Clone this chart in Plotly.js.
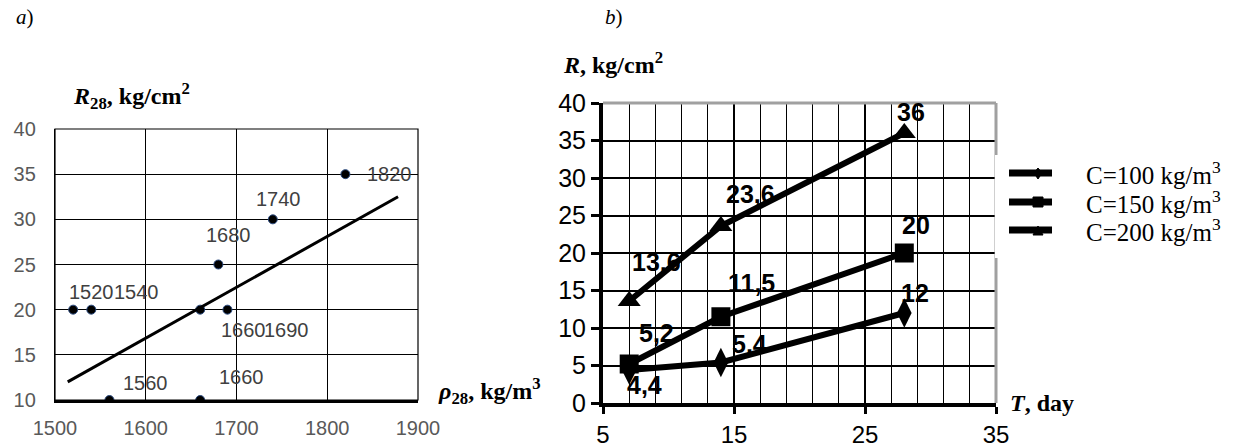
<!DOCTYPE html>
<html>
<head>
<meta charset="utf-8">
<script src="https://cdn.plot.ly/plotly-3.0.1.min.js"></script>
<style>html,body{margin:0;padding:0;background:#fff}#chart{width:1238px;height:448px}</style>
</head>
<body>
<div id="chart"></div>
<script>
// ---- Chart a): strength vs density ----
const densityX = [1520, 1540, 1560, 1660, 1660, 1680, 1690, 1740, 1820];
const strengthY = [20, 20, 10, 20, 10, 25, 20, 30, 35];
const densityLabels = ['1520', '1540', '1560', '1660', '1660', '1680', '1690', '1740', '1820'];
const trendX = [1514, 1878];
const trendY = [12, 32.5];

// ---- Chart b): strength vs time ----
const days = [7, 14, 28];
const seriesNames = ['C=100 kg/m<sup>3</sup>', 'C=150 kg/m<sup>3</sup>', 'C=200 kg/m<sup>3</sup>'];
const c100 = [4.4, 5.4, 12];
const c150 = [5.2, 11.5, 20];
const c200 = [13.6, 23.6, 36];

// label placement (pixel offsets), kept apart from data
const leftLabelShift = [[18, 18], [45, 18], [36, 17], [43, -20], [41, 23], [10, 30], [59, -20], [6, 20], [44, 0]];
const rightLabelShift = [
  [[15, -15], [29, 19], [11, 20]],
  [[27, 31], [31, 34], [12, 28]],
  [[27, 39], [30, 32], [7, 21]]
];

const W = 1238, H = 448;
const px = v => v / W;
const py = v => (H - v) / H;

const SERIF = 'Liberation Serif, Times New Roman, serif';
const SANS = 'Liberation Sans, Arial, sans-serif';

const traces = [];
traces.push({
  x: densityX, y: strengthY, xaxis: 'x', yaxis: 'y', type: 'scatter', mode: 'markers',
  marker: {color: '#000', size: 9, line: {color: '#2a4a7f', width: 1}}, showlegend: false, hoverinfo: 'skip'
});
traces.push({
  x: trendX, y: trendY, xaxis: 'x', yaxis: 'y', type: 'scatter', mode: 'lines',
  line: {color: '#000', width: 3}, showlegend: false, hoverinfo: 'skip'
});

const series = [c100, c150, c200];
const symbols = ['diamond-tall', 'square', 'triangle-up'];
const sizes = [21, 19, 20];
series.forEach((vals, i) => {
  traces.push({
    x: days, y: vals, xaxis: 'x2', yaxis: 'y2', type: 'scatter', mode: 'lines+markers',
    name: seriesNames[i],
    line: {color: '#000', width: 6}, marker: {symbol: symbols[i], size: sizes[i], color: '#000'},
    showlegend: false, hoverinfo: 'skip'
  });
});

const annotations = [];
densityX.forEach((xv, i) => {
  annotations.push({
    x: xv, y: strengthY[i], xref: 'x', yref: 'y', text: densityLabels[i], showarrow: false,
    xshift: leftLabelShift[i][0], yshift: leftLabelShift[i][1],
    font: {family: SANS, size: 20, color: '#404040'}
  });
});
series.forEach((vals, s) => {
  vals.forEach((v, i) => {
    annotations.push({
      x: days[i], y: v, xref: 'x2', yref: 'y2', text: String(v).replace('.', ','), showarrow: false,
      xshift: rightLabelShift[s][i][0], yshift: rightLabelShift[s][i][1],
      font: {family: SANS, size: 25, color: '#000', weight: 'bold'}
    });
  });
});
// panel letters and axis titles
const titleFont = {family: SERIF, size: 24, color: '#000', weight: 'bold'};
annotations.push({xref: 'paper', yref: 'paper', x: px(14), y: py(17), xanchor: 'left', yanchor: 'middle',
  text: '<i>a</i>)', showarrow: false, font: {family: SERIF, size: 21, color: '#000'}});
annotations.push({xref: 'paper', yref: 'paper', x: px(603), y: py(17), xanchor: 'left', yanchor: 'middle',
  text: '<i>b</i>)', showarrow: false, font: {family: SERIF, size: 21, color: '#000'}});
annotations.push({xref: 'paper', yref: 'paper', x: px(71), y: py(96), xanchor: 'left', yanchor: 'middle',
  text: '<b><i>R</i><sub>28</sub>, kg/cm<sup>2</sup></b>', showarrow: false, font: titleFont});
annotations.push({xref: 'paper', yref: 'paper', x: px(436), y: py(391), xanchor: 'left', yanchor: 'middle',
  text: '<b><i>ρ</i><sub>28</sub>, kg/m<sup>3</sup></b>', showarrow: false, font: titleFont});
annotations.push({xref: 'paper', yref: 'paper', x: px(561), y: py(63), xanchor: 'left', yanchor: 'middle',
  text: '<b><i>R</i>, kg/cm<sup>2</sup></b>', showarrow: false, font: titleFont});
annotations.push({xref: 'paper', yref: 'paper', x: px(1008), y: py(403), xanchor: 'left', yanchor: 'middle',
  text: '<b><i>T</i>, day</b>', showarrow: false, font: titleFont});

const shapes = [
  // frame of chart a
  {type: 'rect', xref: 'x domain', yref: 'y domain', x0: 0, x1: 1, y0: 0, y1: 1,
   line: {color: '#000', width: 1.2}, layer: 'above'},
  // gray top and right border of chart b
  {type: 'line', xref: 'x2 domain', yref: 'y2 domain', x0: 0, x1: 1, y0: 1, y1: 1,
   line: {color: '#a0a0a0', width: 3}, layer: 'above'},
  {type: 'line', xref: 'x2 domain', yref: 'y2 domain', x0: 1, x1: 1, y0: 0, y1: 1,
   line: {color: '#a0a0a0', width: 3}, layer: 'above'},
  // legend background
  {type: 'rect', xref: 'paper', yref: 'paper', x0: px(995), x1: px(1238), y0: py(258), y1: py(155),
   line: {width: 0}, fillcolor: '#fff', layer: 'above'}
];

// legend (drawn by hand to keep the original compact rows)
const legendRows = [173, 202, 230];
legendRows.forEach((ry, i) => {
  shapes.push({type: 'line', xref: 'paper', yref: 'paper', x0: px(1009), x1: px(1052), y0: py(ry), y1: py(ry),
    line: {color: '#000', width: 7}, layer: 'above'});
  let path;
  const cx = 1038;
  if (i === 0) {
    path = `M${px(cx - 4)},${py(ry)} L${px(cx)},${py(ry - 5)} L${px(cx + 4)},${py(ry)} L${px(cx)},${py(ry + 6)} Z`;
  } else if (i === 1) {
    path = `M${px(cx - 5)},${py(ry - 5)} L${px(cx + 5)},${py(ry - 5)} L${px(cx + 5)},${py(ry + 5)} L${px(cx - 5)},${py(ry + 5)} Z`;
  } else {
    path = `M${px(cx - 5)},${py(ry + 5)} L${px(cx + 5)},${py(ry + 5)} L${px(cx)},${py(ry - 4)} Z`;
  }
  shapes.push({type: 'path', xref: 'paper', yref: 'paper', path: path, fillcolor: '#000',
    line: {color: '#000', width: 1}, layer: 'above'});
  annotations.push({xref: 'paper', yref: 'paper', x: px(1084), y: py(ry), xanchor: 'left', yanchor: 'middle',
    text: seriesNames[i], showarrow: false, font: {family: SERIF, size: 25, color: '#000'}});
});

const layout = {
  width: W, height: H,
  margin: {l: 0, r: 0, t: 0, b: 0, autoexpand: false},
  paper_bgcolor: '#fff', plot_bgcolor: '#fff',
  showlegend: false,
  xaxis: {
    domain: [px(55), px(418)], range: [1500, 1900], tick0: 1500, dtick: 100, anchor: 'y',
    showgrid: true, gridcolor: '#000', gridwidth: 1, zeroline: false,
    showline: true, linecolor: '#000', linewidth: 2.5, ticks: '',
    ticklabelstandoff: 8,
    tickfont: {family: SANS, size: 20, color: '#595959'}
  },
  yaxis: {
    domain: [py(400), py(129)], range: [10, 40], tick0: 10, dtick: 5, anchor: 'x',
    showgrid: true, gridcolor: '#000', gridwidth: 1, zeroline: false,
    showline: true, linecolor: '#000', linewidth: 1.2, ticks: '',
    ticklabelstandoff: 14,
    tickfont: {family: SANS, size: 20, color: '#595959'}
  },
  xaxis2: {
    domain: [px(603), px(996)], range: [5, 35], tick0: 5, dtick: 10, anchor: 'y2',
    showgrid: true, gridcolor: '#000', gridwidth: 1.3, zeroline: false,
    minor: {dtick: 2, tick0: 5, showgrid: true, gridcolor: '#000', gridwidth: 1.3, ticks: ''},
    showline: true, linecolor: '#000', linewidth: 4,
    ticks: 'outside', ticklen: 7, tickwidth: 3, tickcolor: '#000',
    ticklabelstandoff: 0,
    tickfont: {family: SANS, size: 24, color: '#000'}
  },
  yaxis2: {
    domain: [py(403), py(103)], range: [0, 40], tick0: 0, dtick: 5, anchor: 'x2',
    showgrid: true, gridcolor: '#000', gridwidth: 2, zeroline: false,
    showline: true, linecolor: '#000', linewidth: 4,
    ticks: 'outside', ticklen: 8, tickwidth: 3, tickcolor: '#000',
    ticklabelstandoff: 0,
    tickfont: {family: SANS, size: 25, color: '#000'}
  },
  annotations: annotations,
  shapes: shapes
};

Plotly.newPlot('chart', traces, layout, {staticPlot: true, displayModeBar: false});
</script>
</body>
</html>
